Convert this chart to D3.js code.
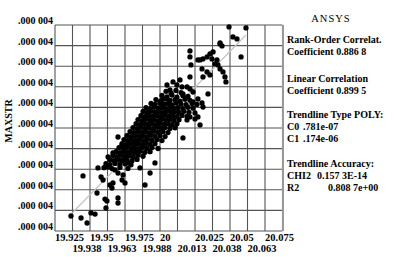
<!DOCTYPE html>
<html><head><meta charset="utf-8">
<script src="https://cdn.jsdelivr.net/npm/d3@7"></script>
<style>
html,body{margin:0;padding:0;background:#fff;}
svg{display:block;}
text{font-family:"Liberation Serif","Times New Roman",serif;fill:#000;}
</style></head>
<body>
<script>
// x tick values (stress variable) and their labels
const xTicks = [19.925,19.9375,19.95,19.9625,19.975,19.9875,20,20.0125,20.025,20.0375,20.05,20.0625,20.075,20.0875];
const xTickLabels = ["19.925","19.938","19.95","19.963","19.975","19.988","20","20.013","20.025","20.038","20.05","20.063","20.075",""];
// y tick values in micro-units of MAXSTR
const yTicks = [3.545,3.5475,3.550,3.5525,3.555,3.5575,3.560,3.5625,3.565,3.5675,3.570];
const yTickLabels = [".000 004",".000 004",".000 004",".000 004",".000 004",".000 004",".000 004",".000 004",".000 004",".000 004",".000 004"];
const yUnit = 1e-6;
// trendline coefficients (POLY): MAXSTR = C0 + C1 * x
const trendC0 = 0.781e-07;
const trendC1 = 0.174e-06;
const statsLines = [
  {t:"Rank-Order Correlat."},
  {t:"Coefficient 0.886 8"},
  {t:"Linear Correlation"},
  {t:"Coefficient 0.899 5"},
  {t:"Trendline Type POLY:"},
  {t:"C0", v:".781e-07"},
  {t:"C1", v:".174e-06"},
  {t:"Trendline Accuracy:"},
  {t:"CHI2", v:"0.157 3E-14"},
  {t:"R2", v:"0.808 7e+00"}
];
// samples: [x, MAXSTR in micro-units]
const samples = [
[19.9364,3.54682],[19.9436,3.54658],[19.9479,3.54597],[19.9507,3.54719],[19.9536,3.54706],
[19.9450,3.55168],[19.9550,3.54961],[19.9607,3.54888],[19.9621,3.54864],[19.9614,3.54779],
[19.9700,3.54901],[19.9700,3.54840],[19.9579,3.55156],[19.9593,3.55119],[19.9557,3.55265],
[19.9629,3.55277],[19.9643,3.55058],[19.9657,3.55022],[19.9664,3.55083],[19.9729,3.55119],
[19.9750,3.55083],[19.9736,3.55180],[19.9700,3.55204],[19.9679,3.55241],[19.9893,3.55058],
[19.9857,3.55265],[19.9929,3.55204],[19.9964,3.55326],
[20.0493,3.56977],[20.0614,3.56964],[20.0521,3.56855],[20.0550,3.56831],[20.0429,3.56770],
[20.0443,3.56746],[20.0579,3.56612],[20.0214,3.56685],[20.0214,3.56612],[20.0221,3.56515],
[20.0271,3.56576],[20.0307,3.56588],[20.0336,3.56612],[20.0357,3.56649],[20.0371,3.56588],
[20.0407,3.56576],[20.0414,3.56515],[20.0429,3.56467],[20.0393,3.56527],[20.0300,3.56467],
[20.0336,3.56430],[20.0357,3.56394],[20.0307,3.56370],[20.0450,3.56430],[20.0464,3.56370],
[20.0471,3.56309],[20.0214,3.56370],[20.0050,3.56272],[20.0071,3.56212],[20.0093,3.56309],
[20.0121,3.56272],[20.0143,3.56333],[20.0157,3.56248],[20.0193,3.56248],[20.0214,3.56224],
[20.0236,3.56187],[20.0164,3.56163],[20.0343,3.56163],[20.0271,3.56102],[20.0236,3.56066],
[20.0164,3.55629],[20.0286,3.55787],[20.0300,3.56054],[20.0307,3.56005],[20.0250,3.55933],
[20.0271,3.55884],[20.0193,3.55848],[20.0250,3.55860],[20.0214,3.55884],
[20.0000,3.56066],[20.0021,3.56102],
[19.9700,3.55641],[19.9729,3.55544],[19.9764,3.55520],[19.9786,3.55568],
[19.9629,3.55398],[19.9664,3.55447],[19.9693,3.55362],[19.9736,3.55362],[19.9771,3.55326],
[19.9807,3.55398],[19.9821,3.55483],[19.9843,3.55447],[19.9821,3.55580],
[20.0286,3.56576],[20.0379,3.56673],[20.0429,3.56782],
[20.0043,3.56195],[20.0079,3.56172],[20.0114,3.56205],[20.0150,3.56180],
[20.0014,3.56145],[20.0050,3.56128],[20.0086,3.56150],[20.0121,3.56125],[20.0164,3.56142],[20.0200,3.56133],
[19.9971,3.56095],[20.0007,3.56080],[20.0043,3.56102],[20.0071,3.56085],[20.0107,3.56094],[20.0143,3.56076],[20.0179,3.56098],[20.0214,3.56086],
[19.9936,3.56048],[19.9964,3.56035],[20.0000,3.56050],[20.0029,3.56038],[20.0057,3.56046],[20.0086,3.56030],[20.0114,3.56052],[20.0150,3.56040],[20.0186,3.56034],[20.0229,3.56048],[20.0264,3.56036],
[19.9900,3.55998],[19.9929,3.55985],[19.9957,3.56002],[19.9986,3.55990],[20.0014,3.55996],[20.0043,3.55984],[20.0071,3.56000],[20.0100,3.55988],[20.0129,3.55997],[20.0164,3.55986],[20.0200,3.56001],[20.0236,3.55990],
[19.9879,3.55950],[19.9907,3.55938],[19.9936,3.55952],[19.9964,3.55940],[19.9993,3.55948],[20.0021,3.55936],[20.0050,3.55953],[20.0079,3.55941],[20.0107,3.55949],[20.0136,3.55938],[20.0171,3.55952],[20.0207,3.55940],
[19.9864,3.55900],[19.9893,3.55888],[19.9921,3.55903],[19.9950,3.55891],[19.9979,3.55899],[20.0007,3.55887],[20.0036,3.55904],[20.0064,3.55892],[20.0093,3.55900],[20.0121,3.55889],[20.0157,3.55902],[20.0193,3.55890],
[19.9843,3.55852],[19.9871,3.55840],[19.9900,3.55855],[19.9929,3.55843],[19.9957,3.55851],[19.9986,3.55839],[20.0014,3.55856],[20.0043,3.55844],[20.0071,3.55852],[20.0100,3.55841],[20.0136,3.55850],
[19.9829,3.55803],[19.9857,3.55791],[19.9886,3.55806],[19.9914,3.55794],[19.9943,3.55802],[19.9971,3.55790],[20.0000,3.55807],[20.0029,3.55795],[20.0057,3.55803],[20.0086,3.55792],[20.0121,3.55801],
[19.9807,3.55755],[19.9836,3.55743],[19.9864,3.55758],[19.9893,3.55746],[19.9921,3.55754],[19.9950,3.55742],[19.9979,3.55759],[20.0007,3.55747],[20.0036,3.55755],[20.0071,3.55744],[20.0107,3.55752],
[19.9786,3.55706],[19.9814,3.55694],[19.9843,3.55709],[19.9871,3.55697],[19.9900,3.55705],[19.9929,3.55693],[19.9957,3.55710],[19.9986,3.55698],[20.0021,3.55706],[20.0057,3.55695],
[19.9764,3.55657],[19.9793,3.55645],[19.9821,3.55660],[19.9850,3.55648],[19.9879,3.55656],[19.9907,3.55644],[19.9936,3.55661],[19.9964,3.55649],[20.0000,3.55657],[20.0036,3.55646],
[19.9743,3.55609],[19.9771,3.55597],[19.9800,3.55612],[19.9829,3.55600],[19.9857,3.55608],[19.9886,3.55596],[19.9914,3.55613],[19.9943,3.55601],[19.9979,3.55609],[20.0014,3.55598],
[19.9729,3.55560],[19.9757,3.55548],[19.9786,3.55563],[19.9814,3.55551],[19.9843,3.55559],[19.9871,3.55547],[19.9900,3.55564],[19.9929,3.55552],[19.9964,3.55560],
[19.9707,3.55512],[19.9736,3.55500],[19.9764,3.55515],[19.9793,3.55503],[19.9821,3.55511],[19.9850,3.55499],[19.9879,3.55516],[19.9907,3.55504],[19.9943,3.55512],[19.9986,3.55501],
[19.9686,3.55463],[19.9714,3.55451],[19.9743,3.55466],[19.9771,3.55454],[19.9800,3.55462],[19.9829,3.55450],[19.9857,3.55467],[19.9893,3.55455],[19.9929,3.55463],
[19.9664,3.55415],[19.9693,3.55403],[19.9721,3.55418],[19.9750,3.55406],[19.9779,3.55414],[19.9807,3.55402],[19.9843,3.55419],[19.9879,3.55407],
[19.9643,3.55366],[19.9671,3.55354],[19.9700,3.55369],[19.9729,3.55357],[19.9764,3.55365],[19.9800,3.55353],[19.9836,3.55368],
[19.9614,3.55317],[19.9643,3.55305],[19.9679,3.55320],[19.9714,3.55308],[19.9750,3.55316],[19.9793,3.55304],
[19.9600,3.55269],[19.9657,3.55257],[19.9714,3.55272],[19.9771,3.55260]
];

const W = 395, H = 257;
const svg = d3.select("body").append("svg").attr("width", W).attr("height", H);

const x = d3.scaleLinear().domain([xTicks[0], xTicks[xTicks.length-1]]).range([55, 282.5]);
const y = d3.scaleLinear().domain([yTicks[0]*yUnit, yTicks[yTicks.length-1]*yUnit]).range([231, 25]);

// grid
const grid = svg.append("g").attr("stroke", "#555").attr("stroke-width", 1.1);
grid.selectAll("line.v").data(xTicks).join("line").attr("class","v")
  .attr("x1", d => x(d)).attr("x2", d => x(d)).attr("y1", y.range()[1]).attr("y2", y.range()[0]);
grid.selectAll("line.h").data(yTicks).join("line").attr("class","h")
  .attr("y1", d => y(d*yUnit)).attr("y2", d => y(d*yUnit)).attr("x1", x.range()[0]).attr("x2", x.range()[1]);
svg.append("line").attr("x1", x.range()[1]+0.5).attr("x2", x.range()[1]+0.5)
  .attr("y1", y.range()[1]).attr("y2", y.range()[0]).attr("stroke", "#999").attr("stroke-width", 2);

// trendline
const xs = d3.extent(samples, d => d[0]);
svg.append("line")
  .attr("x1", x(xs[0])).attr("y1", y(trendC0 + trendC1*xs[0]))
  .attr("x2", x(xs[1])).attr("y2", y(trendC0 + trendC1*xs[1]))
  .attr("stroke", "#c4c4c4").attr("stroke-width", 1.2);

// points
svg.append("g").selectAll("path").data(samples).join("path")
  .attr("transform", d => `translate(${x(d[0])},${y(d[1]*yUnit)})`)
  .attr("d", d3.symbol().type(d3.symbolCircle).size(22))
  .attr("fill", "#000");

// y tick labels
svg.append("g").selectAll("text").data(yTicks).join("text")
  .attr("x", 53).attr("y", d => y(d*yUnit) - 1)
  .attr("text-anchor", "end").attr("font-size", 10).attr("font-weight", "bold")
  .text((d,i) => yTickLabels[i]);

// x tick labels (staggered)
svg.append("g").selectAll("text").data(xTicks).join("text")
  .attr("x", d => x(d)).attr("y", (d,i) => i % 2 === 0 ? 241 : 252)
  .attr("font-size", 10.5).attr("font-weight", "bold")
  .text((d,i) => xTickLabels[i]);

// y axis title
svg.append("text").attr("transform", "translate(12,121) rotate(-90)")
  .attr("text-anchor", "middle").attr("font-size", 10).attr("font-weight", "bold")
  .text("MAXSTR");

// right panel
svg.append("text").attr("x", 331).attr("y", 22).attr("text-anchor", "middle")
  .attr("font-size", 10.5).attr("letter-spacing", 1).text("ANSYS");
const baselines = [43, 55, 82, 94, 118, 130, 142, 167, 179, 191];
const valX = {"C0": 303, "C1": 303, "CHI2": 317, "R2": 328};
const panel = svg.append("g").attr("font-size", 10).attr("font-weight", "bold");
statsLines.forEach((s, i) => {
  panel.append("text").attr("x", 287).attr("y", baselines[i]).text(s.t);
  if (s.v) panel.append("text").attr("x", valX[s.t]).attr("y", baselines[i]).text(s.v);
});
</script>
</body></html>
